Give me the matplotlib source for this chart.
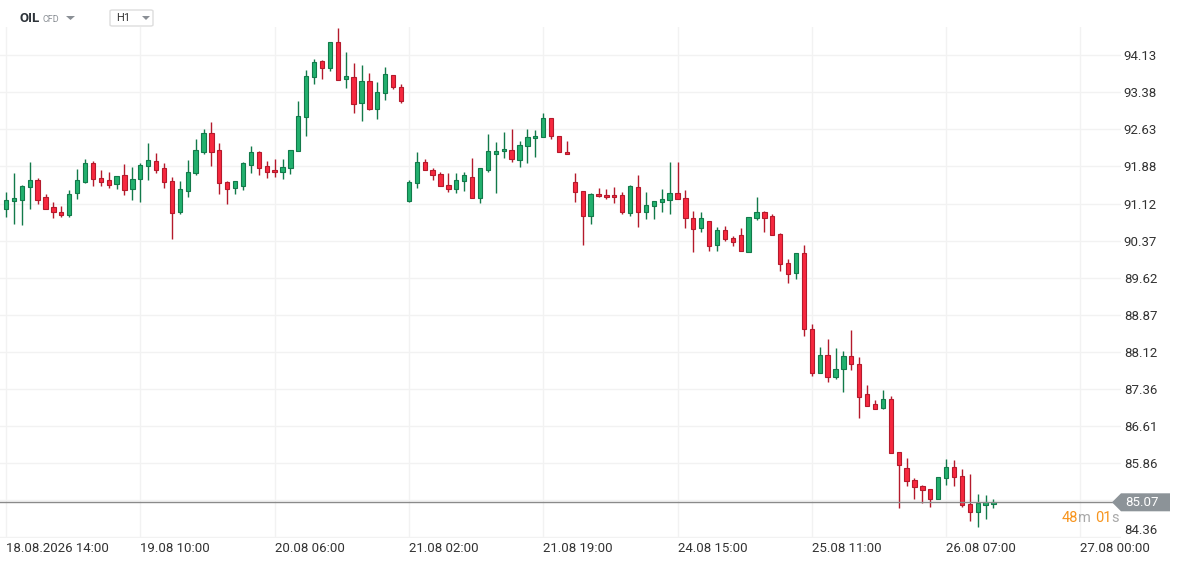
import matplotlib
matplotlib.use('Agg')
import matplotlib.pyplot as plt
import matplotlib.transforms as mtransforms
from matplotlib.patches import Polygon, FancyBboxPatch
import numpy as np

plt.rcParams['font.family'] = ['Roboto', 'DejaVu Sans']

# hourly OHLC candles, OIL CFD, H1
opens = [91.02, 91.17, 91.20, 91.45, 91.59, 91.25, 91.05, 90.96, 90.88, 91.33,
         91.56, 91.94, 91.63, 91.59, 91.51, 91.69, 91.42, 91.61, 91.88, 91.98,
         91.84, 91.57, 90.94, 91.38, 91.73, 92.17, 92.54, 92.20, 91.55, 91.43,
         91.48, 91.90, 92.16, 91.88, 91.80, 91.77, 91.84, 92.18, 92.87, 93.68,
         94.00, 93.86, 94.39, 93.64, 93.68, 93.15, 93.60, 93.03, 93.37, 93.72,
         93.48, 91.18, 91.53, 91.96, 91.80, 91.71, 91.49, 91.41, 91.57, 91.65,
         91.23, 91.80, 92.13, 92.18, 92.20, 92.00, 92.28, 92.44, 92.46, 92.85,
         92.48, 92.16, 91.55, 91.37, 90.86, 91.31, 91.29, 91.29, 91.29, 90.92,
         91.45, 90.96, 91.07, 91.15, 91.19, 91.33, 91.23, 90.82, 90.62, 90.76,
         90.28, 90.58, 90.42, 90.48, 90.13, 90.82, 90.96, 90.86, 90.50, 89.91,
         89.71, 90.11, 88.59, 87.68, 88.05, 87.60, 87.78, 88.03, 87.87, 87.26,
         87.07, 86.97, 87.16, 86.08, 85.76, 85.52, 85.41, 85.33, 85.13, 85.56,
         85.78, 85.60, 85.03, 84.87, 85.01, 85.03]
highs = [91.36, 91.74, 91.50, 91.96, 91.63, 91.31, 91.15, 91.07, 91.40, 91.82,
         92.02, 91.98, 91.80, 91.77, 91.67, 91.92, 91.86, 91.94, 92.34, 92.15,
         91.94, 91.66, 91.58, 92.00, 92.43, 92.63, 92.77, 92.35, 91.57, 91.57,
         91.96, 92.29, 92.18, 91.98, 92.02, 92.02, 92.20, 93.20, 93.82, 94.05,
         94.03, 94.39, 94.68, 94.19, 93.97, 93.93, 93.77, 93.58, 93.89, 93.72,
         93.54, 91.59, 92.17, 92.02, 91.84, 91.77, 91.73, 91.73, 91.77, 92.04,
         91.84, 92.53, 92.37, 92.57, 92.63, 92.38, 92.63, 92.61, 92.96, 92.85,
         92.48, 92.39, 91.73, 91.37, 91.33, 91.43, 91.41, 91.45, 91.35, 91.49,
         91.69, 91.35, 91.17, 91.41, 91.96, 91.96, 91.39, 90.98, 90.94, 90.76,
         90.65, 90.66, 90.46, 90.62, 90.84, 91.25, 90.98, 90.90, 90.52, 89.99,
         90.11, 90.28, 88.68, 88.21, 88.37, 88.19, 88.13, 88.57, 88.01, 87.45,
         87.14, 87.34, 87.22, 86.08, 85.96, 85.56, 85.43, 85.33, 85.58, 85.94,
         85.92, 85.74, 85.64, 85.23, 85.21, 85.13]
lows = [90.85, 90.71, 90.69, 91.02, 91.11, 91.02, 90.83, 90.85, 90.85, 91.22,
        91.53, 91.48, 91.48, 91.44, 91.42, 91.30, 91.20, 91.16, 91.60, 91.73,
        91.44, 90.41, 90.90, 91.26, 91.69, 92.13, 91.89, 91.32, 91.12, 91.31,
        91.40, 91.73, 91.69, 91.64, 91.66, 91.62, 91.71, 92.18, 92.48, 93.55,
        93.65, 93.81, 93.62, 93.47, 92.96, 92.80, 93.01, 92.84, 93.22, 93.44,
        93.15, 91.16, 91.44, 91.80, 91.60, 91.47, 91.36, 91.34, 91.38, 91.23,
        91.14, 91.77, 91.34, 92.04, 91.97, 91.87, 91.95, 92.07, 92.46, 92.42,
        92.16, 92.12, 91.16, 90.28, 90.71, 91.25, 91.21, 91.13, 90.90, 90.86,
        90.64, 90.80, 90.80, 90.96, 90.90, 91.21, 90.62, 90.13, 90.54, 90.17,
        90.15, 90.36, 90.26, 90.15, 90.13, 90.78, 90.54, 90.48, 89.75, 89.51,
        89.59, 88.43, 87.62, 87.68, 87.50, 87.56, 87.30, 87.74, 86.77, 87.03,
        86.95, 86.95, 86.06, 84.96, 85.41, 85.13, 85.06, 84.98, 85.13, 85.43,
        85.41, 84.97, 84.69, 84.56, 84.73, 84.95]
closes = [91.19, 91.23, 91.47, 91.59, 91.20, 91.02, 90.94, 90.88, 91.31, 91.59,
          91.94, 91.61, 91.56, 91.49, 91.67, 91.40, 91.61, 91.90, 92.00, 91.81,
          91.55, 90.92, 91.41, 91.75, 92.20, 92.54, 92.17, 91.53, 91.42, 91.57,
          91.94, 92.16, 91.84, 91.77, 91.75, 91.86, 92.20, 92.89, 93.70, 93.98,
          93.86, 94.39, 93.62, 93.70, 93.13, 93.60, 93.03, 93.39, 93.74, 93.48,
          93.19, 91.55, 91.96, 91.80, 91.69, 91.47, 91.41, 91.59, 91.69, 91.23,
          91.84, 92.18, 92.18, 92.22, 92.02, 92.30, 92.46, 92.48, 92.85, 92.48,
          92.16, 92.12, 91.35, 90.86, 91.31, 91.27, 91.25, 91.25, 90.94, 91.47,
          90.94, 91.09, 91.17, 91.21, 91.33, 91.21, 90.82, 90.60, 90.82, 90.26,
          90.58, 90.40, 90.34, 90.15, 90.84, 90.96, 90.82, 90.48, 89.89, 89.69,
          90.11, 88.59, 87.68, 88.05, 87.60, 87.78, 88.03, 87.87, 87.21, 87.03,
          86.95, 87.16, 86.06, 85.82, 85.50, 85.39, 85.31, 85.13, 85.58, 85.78,
          85.58, 85.01, 84.87, 85.05, 85.07, 85.07]

price_ticks = [94.13, 93.38, 92.63, 91.88, 91.12, 90.37, 89.62, 88.87,
               88.12, 87.36, 86.61, 85.86, 85.11, 84.36]
price_labels = ['94.13', '93.38', '92.63', '91.88', '91.12', '90.37', '89.62',
                '88.87', '88.12', '87.36', '86.61', '85.86', '', '84.36']
time_ticks = [0, 17, 34, 51, 68, 85, 102, 119, 136]
time_labels = ['18.08.2026 14:00', '19.08 10:00', '20.08 06:00', '21.08 02:00',
               '21.08 19:00', '24.08 15:00', '25.08 11:00', '26.08 07:00',
               '27.08 00:00']
last_price = 85.07
countdown = [('48', '#f7941d'), ('m ', '#a8a8a8'), ('01', '#f7941d'), ('s', '#a8a8a8')]

W, H = 1184, 563
green, green_edge = '#22b06e', '#127a4a'
red, red_edge = '#f7283f', '#b41a2c'

fig = plt.figure(figsize=(W / 100, H / 100), dpi=100)
ax = fig.add_axes([0, (H - 538) / H, 1121 / W, (538 - 27) / H])

o = np.array(opens)
c = np.array(closes)
hi = np.array(highs)
lo = np.array(lows)
x = np.arange(len(o))
up = c >= o
bottoms = np.minimum(o, c)
heights = np.maximum(np.abs(c - o), 0.03)

for mask, face, edge in [(up, green, green_edge), (~up, red, red_edge)]:
    ax.vlines(x[mask], lo[mask], hi[mask], color=edge, lw=1.0, zorder=2)
    ax.bar(x[mask], heights[mask], bottom=bottoms[mask], width=0.55,
           color=face, edgecolor=edge, linewidth=0.8, zorder=3)

ax.set_xlim(-6 / 7.9, (1121 - 6) / 7.9)
ax.set_ylim(84.347, 94.697)

ax.yaxis.tick_right()
ax.set_yticks(price_ticks)
ax.set_yticklabels(price_labels)
ax.set_xticks(time_ticks)
ax.set_xticklabels(time_labels, ha='left')
ax.tick_params(axis='y', length=0, pad=2, labelsize=9.5, labelcolor='#333333')
ax.tick_params(axis='x', length=0, pad=3, labelsize=9.5, labelcolor='#333333')
# lowest price label sits a bit higher, above the time axis labels
ax.get_yticklabels()[-1].set_verticalalignment('bottom')
ax.grid(True, color='#f2f2f2', lw=1, zorder=0)
ax.set_axisbelow(True)
for s in ax.spines.values():
    s.set_visible(False)

# current price line and tag
ax.axhline(last_price, color='#8a8a8a', lw=1, zorder=4)
tr = mtransforms.blended_transform_factory(fig.transFigure, ax.transData)
hh = 9 / 49.37
tag = Polygon([(1112 / W, last_price), (1121 / W, last_price + hh),
               (1170 / W, last_price + hh), (1170 / W, last_price - hh),
               (1121 / W, last_price - hh)], closed=True,
              facecolor='#8c9398', edgecolor='none', transform=tr, clip_on=False, zorder=6)
ax.add_patch(tag)
ax.text(1142 / W, last_price, f'{last_price:.2f}', transform=tr, ha='center',
        va='center', color='white', fontsize=9.5, zorder=7, clip_on=False)

# countdown, pieces placed one after the other
fig.canvas.draw()
renderer = fig.canvas.get_renderer()
ty = 1 - 518 / H
px = 1062
for txt, col in countdown:
    t = fig.text(px / W, ty, txt, color=col, fontsize=10.5, ha='left', va='center')
    px += t.get_window_extent(renderer).width

# header
hy = 1 - 18 / H
fig.text(20 / W, hy, 'OIL', fontsize=9.5, fontweight='bold', color='#2d3339', va='center')
fig.text(43 / W, hy - 0.002, 'CFD', fontsize=6.5, color='#8a8f95', va='center')
fig.patches.append(Polygon([(66 / W, 1 - 16 / H), (75 / W, 1 - 16 / H), (70.5 / W, 1 - 20 / H)],
                           closed=True, facecolor='#8a8f95', edgecolor='none',
                           transform=fig.transFigure, figure=fig))
fig.patches.append(FancyBboxPatch((110 / W, 1 - 26 / H), 43 / W, 16 / H,
                                  boxstyle='round,pad=0,rounding_size=0.002',
                                  facecolor='white', edgecolor='#dddddd', lw=1,
                                  transform=fig.transFigure, figure=fig))
fig.text(116 / W, hy, 'H1', fontsize=8, color='#333333', va='center')
fig.patches.append(Polygon([(142 / W, 1 - 16 / H), (150 / W, 1 - 16 / H), (146 / W, 1 - 20 / H)],
                           closed=True, facecolor='#8a8f95', edgecolor='none',
                           transform=fig.transFigure, figure=fig))

fig.savefig('out.png', dpi=100)
